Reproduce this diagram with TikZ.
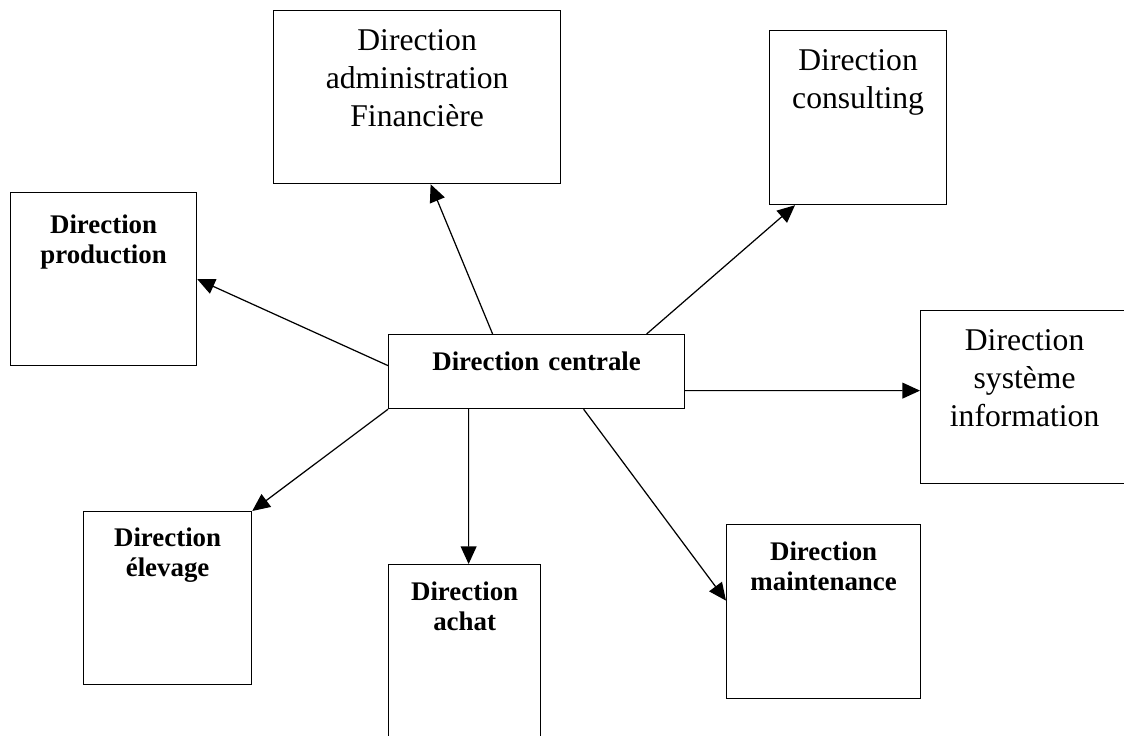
\documentclass[tikz,border=0pt]{standalone}
\usepackage{fontspec}
\setmainfont{Liberation Serif}
\usepackage{tikz}
\usetikzlibrary{arrows.meta}

\tikzset{
    dir/.style={draw, line width=0.7pt, anchor=north west, inner sep=0pt, align=center},
    big/.style={font=\fontsize{18}{21.5}\selectfont},
    bld/.style={font=\fontsize{15.3}{17}\selectfont\bfseries},
    arr/.style={line width=0.7pt, -{Triangle[length=10pt, width=9pt]}}
}

\begin{document}
\begin{tikzpicture}
        \useasboundingbox (0,0) rectangle (22.48,-14.72);

        \node[dir, big, text width=5.74cm, text height=0.8cm, text depth=2.66cm] (admin) at (5.46,-0.2) {Direction\\administration\\Financi\`ere};
        \node[dir, big, text width=3.54cm, text height=0.8cm, text depth=2.68cm] (consulting) at (15.38,-0.6) {Direction\\consulting};
        \node[dir, bld, text width=3.72cm, text height=0.82cm, text depth=2.64cm] (prod) at (0.2,-3.84) {Direction\\production};
        \node[dir, bld, text width=5.92cm, text height=0.72cm, text depth=0.76cm] (centrale) at (7.76,-6.68) {Direction centrale};
        \node[dir, big, text width=4.16cm, text height=0.8cm, text depth=2.66cm] (sys) at (18.4,-6.2) {Direction\\syst\`eme\\information};
        \node[dir, bld, text width=3.36cm, text height=0.7cm, text depth=2.76cm] (elevage) at (1.66,-10.22) {Direction\\\'elevage};
        \node[dir, bld, text width=3.04cm, text height=0.72cm, text depth=2.74cm] (achat) at (7.76,-11.28) {Direction\\achat};
        \node[dir, bld, text width=3.88cm, text height=0.72cm, text depth=2.76cm] (maint) at (14.52,-10.48) {Direction\\maintenance};

        \draw[arr] ([xshift=-0.88cm]centrale.north) -- ([xshift=0.27cm]admin.south);
        \draw[arr] ([xshift=2.2cm]centrale.north) -- ([xshift=0.52cm]consulting.south west);
        \draw[arr] ([yshift=0.12cm]centrale.west) -- (prod.east);
        \draw[arr] ([yshift=-0.38cm]centrale.east) -- ([yshift=0.13cm]sys.west);
        \draw[arr] (centrale.south west) -- (elevage.north east);
        \draw[arr] ([xshift=-1.36cm]centrale.south) -- ([xshift=0.08cm]achat.north);
        \draw[arr] ([xshift=0.94cm]centrale.south) -- ([yshift=0.22cm]maint.west);
    \end{tikzpicture}
\end{document}
